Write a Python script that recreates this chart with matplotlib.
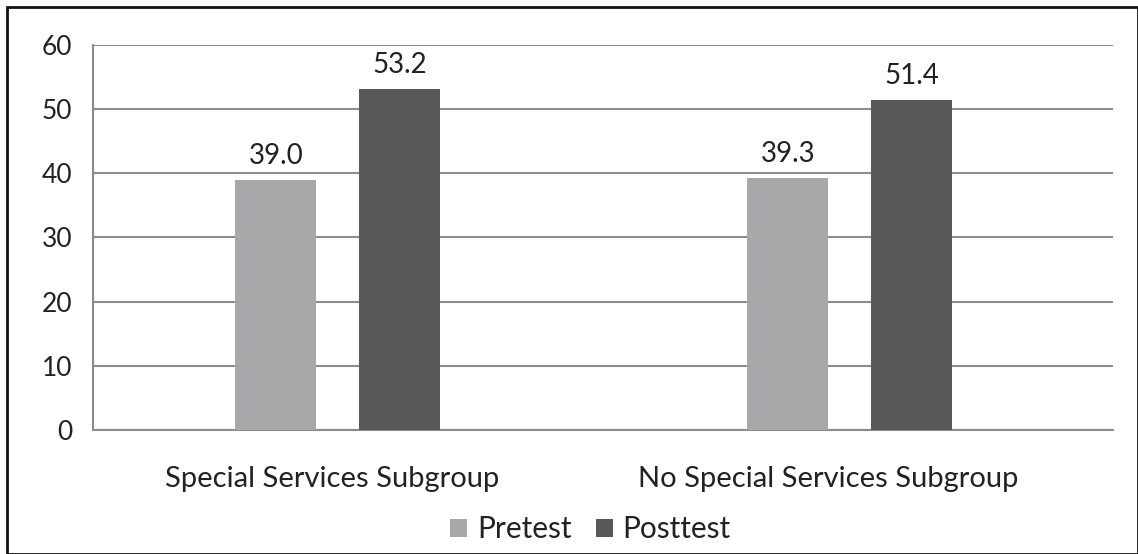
import matplotlib.pyplot as plt
import matplotlib.transforms as mtransforms
import numpy as np
from matplotlib.patches import Rectangle

categories = ["Special Services Subgroup", "No Special Services Subgroup"]
series_names = ["Pretest", "Posttest"]
pretest = [39.0, 39.3]
posttest = [53.2, 51.4]
y_ticks = [0, 10, 20, 30, 40, 50, 60]

plt.rcParams["font.family"] = ["Lato", "DejaVu Sans"]

colors = ["#a7a8aa", "#58585a"]
grid_color = "#8c8c8c"
text_color = "#222222"

fig = plt.figure(figsize=(11.38, 5.54), dpi=100)
ax = fig.add_axes([0.0817, 0.2238, 0.8963, 0.695])

x = np.arange(len(categories))
width = 0.158
offset = 0.121

for values, name, color, shift in zip([pretest, posttest], series_names, colors, [-offset, offset]):
    bars = ax.bar(x + shift, values, width, color=color, label=name, zorder=3)
    for bar, value in zip(bars, values):
        ax.annotate(f"{value:.1f}", (bar.get_x() + bar.get_width() / 2, value),
                    xytext=(0, 8), textcoords="offset points",
                    ha="center", va="bottom", fontsize=20, color=text_color)

ax.set_xlim(-0.478, 1.514)
ax.set_ylim(0, 60)
ax.set_yticks(y_ticks)
ax.set_yticklabels([str(t) for t in y_ticks], fontsize=19, color=text_color)
ax.tick_params(axis="y", length=0, pad=15)
ax.set_xticks(x)
ax.set_xticklabels(categories, fontsize=21, color=text_color)
ax.tick_params(axis="x", length=0, pad=26)

# category labels sit a little left of the bar pairs in the original
for label, dx in zip(ax.get_xticklabels(), [-6, -22]):
    nudge = mtransforms.ScaledTranslation(dx / 100, 0, fig.dpi_scale_trans)
    label.set_transform(label.get_transform() + nudge)

ax.yaxis.grid(True, color=grid_color, linewidth=1.5, zorder=0)
ax.set_axisbelow(True)
for side in ["top", "right"]:
    ax.spines[side].set_visible(False)
for side in ["left", "bottom"]:
    ax.spines[side].set_color(grid_color)
    ax.spines[side].set_linewidth(1.5)

fig.legend(loc="center", bbox_to_anchor=(0.519, 0.045), ncol=2, frameon=False,
           fontsize=21.5, handlelength=0.55, handleheight=0.55, handletextpad=0.33,
           columnspacing=0.84, labelcolor=text_color)

fig.patches.append(Rectangle((0.006, 0.0), 0.994, 0.988, transform=fig.transFigure,
                             fill=False, edgecolor="#111111", linewidth=2))

fig.savefig("out.png", dpi=100)
